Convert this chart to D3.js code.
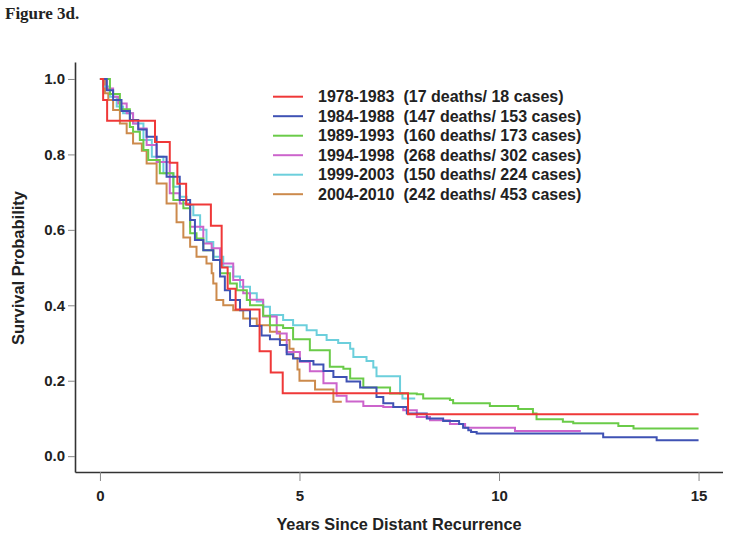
<!DOCTYPE html>
<html>
<head>
<meta charset="utf-8">
<script src="https://cdn.jsdelivr.net/npm/d3@7/dist/d3.min.js"></script>
<style>
  body { margin: 0; background: #fff; }
  svg text { font-family: "Liberation Sans", Arial, Helvetica, sans-serif; fill: #222; }
</style>
</head>
<body>
<svg id="chart" width="729" height="538"></svg>
<script>
// ---- Data: Kaplan-Meier steps [years, survival] ----
const red7883 = [[0,1],[0.08,0.944],[0.18,0.889],[1.38,0.833],[1.75,0.778],[1.94,0.722],[2.16,0.667],
  [2.78,0.611],[3.05,0.5],[3.2,0.444],[3.4,0.389],[4.0,0.278],[4.28,0.222],[4.58,0.167],[7.72,0.111],[15,0.111]];

const blue8488 = [[0,1],[0.17,0.97],[0.33,0.944],[0.54,0.915],[0.75,0.891],[0.96,0.866],[1.17,0.847],
  [1.42,0.794],[1.67,0.741],[2.0,0.679],[2.26,0.626],[2.38,0.573],[2.59,0.546],[2.84,0.52],[3.01,0.476],
  [3.13,0.44],[3.26,0.414],[3.51,0.387],[3.76,0.345],[4.05,0.32],[4.26,0.31],[4.51,0.295],[4.68,0.27],
  [4.84,0.259],[5.01,0.252],[5.35,0.243],[5.6,0.226],[5.85,0.21],[6.18,0.198],[6.52,0.182],[6.93,0.157],
  [7.1,0.14],[7.35,0.13],[7.69,0.113],[8.19,0.1],[8.6,0.093],[9.0,0.085],[9.1,0.075],[9.23,0.069],
  [9.3,0.064],[9.44,0.06],[12.61,0.05],[13.95,0.042],[15,0.042]];

const green8993 = [[0,1],[0.25,0.96],[0.5,0.92],[0.75,0.873],[0.83,0.86],[1.0,0.838],[1.09,0.812],
  [1.21,0.785],[1.5,0.75],[1.84,0.679],[2.09,0.657],[2.26,0.591],[2.42,0.577],[2.59,0.546],[2.84,0.52],
  [3.01,0.485],[3.26,0.458],[3.43,0.44],[3.68,0.414],[3.76,0.4],[4.09,0.372],[4.26,0.347],[4.59,0.34],
  [4.84,0.31],[5.26,0.281],[5.76,0.237],[6.1,0.232],[6.27,0.206],[6.6,0.182],[7.27,0.166],[7.94,0.164],
  [8.1,0.153],[8.77,0.149],[8.85,0.14],[9.77,0.133],[10.48,0.125],[10.85,0.113],[10.94,0.098],
  [11.6,0.091],[11.86,0.087],[12.99,0.08],[13.37,0.073],[15,0.073]];

const magenta9498 = [[0,1],[0.17,0.975],[0.33,0.953],[0.46,0.935],[0.67,0.909],[0.83,0.882],[0.96,0.869],
  [1.17,0.825],[1.42,0.78],[1.75,0.697],[2.0,0.67],[2.26,0.608],[2.59,0.564],[2.8,0.551],[3.01,0.511],
  [3.34,0.467],[3.59,0.432],[3.76,0.415],[4.09,0.37],[4.43,0.325],[4.68,0.276],[5.01,0.25],[5.26,0.225],
  [5.6,0.193],[5.93,0.16],[6.18,0.145],[6.6,0.133],[7.1,0.13],[7.6,0.122],[7.94,0.104],[8.27,0.095],
  [8.77,0.085],[9.15,0.075],[10.4,0.067],[12.05,0.067]];

const cyan9903 = [[0,1],[0.08,0.98],[0.25,0.953],[0.42,0.927],[0.58,0.909],[0.83,0.882],[1.09,0.838],
  [1.3,0.794],[1.59,0.75],[1.84,0.714],[2.0,0.688],[2.17,0.666],[2.34,0.639],[2.51,0.6],[2.67,0.568],
  [2.84,0.529],[3.09,0.502],[3.34,0.476],[3.51,0.449],[3.76,0.432],[3.93,0.41],[4.09,0.396],[4.26,0.374],
  [4.59,0.361],[4.84,0.347],[5.18,0.334],[5.43,0.321],[5.68,0.308],[5.97,0.3],[6.27,0.285],[6.35,0.263],
  [6.68,0.252],[6.85,0.235],[6.93,0.212],[7.52,0.166],[7.58,0.153],[7.9,0.153]];

const orange0410 = [[0,1],[0.125,0.962],[0.21,0.944],[0.33,0.918],[0.5,0.882],[0.67,0.856],[0.83,0.829],
  [1.05,0.81],[1.17,0.776],[1.42,0.723],[1.67,0.67],[1.92,0.62],[2.09,0.58],[2.26,0.555],[2.42,0.529],
  [2.67,0.511],[2.8,0.485],[2.84,0.458],[2.92,0.414],[3.09,0.4],[3.34,0.387],[3.59,0.365],[3.93,0.347],
  [4.26,0.33],[4.51,0.308],[4.75,0.285],[4.85,0.26],[4.95,0.23],[5.0,0.2],[5.39,0.177],[5.85,0.144],[6.06,0.144]];

const seriesNames = ['1978-1983', '1984-1988', '1989-1993', '1994-1998', '1999-2003', '2004-2010'];
const seriesDeaths = [17, 147, 160, 268, 150, 242];
const seriesCases = [18, 153, 173, 302, 224, 453];
const seriesColors = ['#ef3838', '#3f52b4', '#6acb48', '#cc64cc', '#6ccfdc', '#cc8a4c'];
const seriesData = [red7883, blue8488, green8993, magenta9498, cyan9903, orange0410];

const xTicks = [0, 5, 10, 15];
const yTicks = [0, 0.2, 0.4, 0.6, 0.8, 1.0];

// ---- Layout ----
const svg = d3.select('#chart');
const x = d3.scaleLinear().domain([-0.625, 15.6]).range([75, 722.5]);
const y = d3.scaleLinear().domain([-0.042, 1.045]).range([472, 62]);

svg.append('text')
  .attr('x', 5).attr('y', 19)
  .style('font-family', '"Liberation Serif", "Times New Roman", serif')
  .style('font-weight', 'bold').style('font-size', '17px')
  .text('Figure 3d.');

// ---- Axes ----
const xAxis = d3.axisBottom(x).tickValues(xTicks).tickSize(9).tickSizeOuter(0).tickPadding(9)
  .tickFormat(d3.format('d'));
const yAxis = d3.axisLeft(y).tickValues(yTicks).tickSize(7).tickSizeOuter(0).tickPadding(3)
  .tickFormat(d3.format('.1f'));

const gx = svg.append('g').attr('transform', 'translate(0,472)').call(xAxis);
const gy = svg.append('g').attr('transform', 'translate(75,0)').call(yAxis);

[gx, gy].forEach(g => {
  g.select('.domain').attr('stroke', '#333').attr('stroke-width', 1.6);
  g.selectAll('.tick line').attr('stroke', '#888').attr('stroke-width', 1);
  g.selectAll('.tick text').style('font-size', '15px').style('font-weight', 'bold').attr('fill', '#222')
    .style('font-family', '"Liberation Sans", Arial, sans-serif');
});

svg.append('text')
  .attr('x', 399).attr('y', 530)
  .attr('text-anchor', 'middle')
  .style('font-size', '16.3px').style('font-weight', 'bold')
  .text('Years Since Distant Recurrence');

svg.append('text')
  .attr('transform', 'translate(24,268) rotate(-90)')
  .attr('text-anchor', 'middle')
  .style('font-size', '16.5px').style('font-weight', 'bold')
  .text('Survival Probability');

// ---- Curves ----
const line = d3.line()
  .x(d => x(d[0]))
  .y(d => y(d[1]))
  .curve(d3.curveStepAfter);

// draw oldest last so red stays on top
const order = [5, 4, 3, 2, 1, 0];
svg.append('g')
  .selectAll('path')
  .data(order)
  .join('path')
  .attr('d', i => line(seriesData[i]))
  .attr('fill', 'none')
  .attr('stroke', i => seriesColors[i])
  .attr('stroke-width', 2);

// ---- Legend ----
const legend = svg.append('g');
seriesNames.forEach((name, i) => {
  const ly = 96.7 + i * 19.5;
  legend.append('line')
    .attr('x1', 273).attr('x2', 303).attr('y1', ly).attr('y2', ly)
    .attr('stroke', seriesColors[i]).attr('stroke-width', 2);
  legend.append('text')
    .attr('x', 318).attr('y', ly + 5.5)
    .attr('xml:space', 'preserve')
    .style('white-space', 'pre')
    .style('font-size', '16px').style('font-weight', 'bold')
    .text(`${name}  (${seriesDeaths[i]} deaths/ ${seriesCases[i]} cases)`);
});
</script>
</body>
</html>
